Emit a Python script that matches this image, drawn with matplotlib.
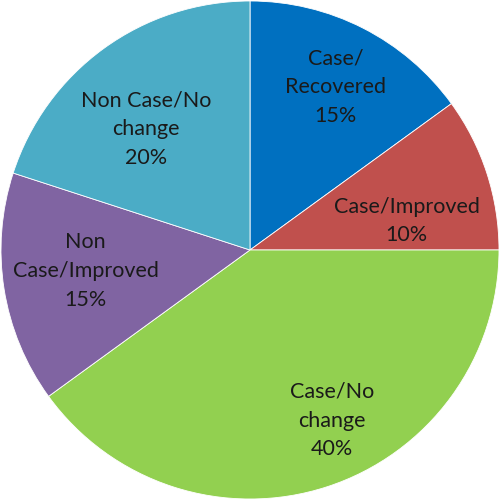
import numpy as np
import matplotlib
matplotlib.use("Agg")
import matplotlib.pyplot as plt

categories = ["Case/\nRecovered", "Case/Improved", "Case/No\nchange", "Non\nCase/Improved", "Non Case/No\nchange"]
values = [15, 10, 40, 15, 20]
colors = ["#0070C0", "#C0504D", "#92D050", "#8064A2", "#4BACC6"]

# label placement (fraction of radius, angular shift in degrees)
label_r = [0.74, 0.64, 0.76, 0.665, 0.64]
label_shift = [-0.7, -7.5, 7.6, -1.7, 4.7]

fig = plt.figure(figsize=(5.0, 4.99), dpi=100)
ax = fig.add_axes([0, 0, 1, 1])
wedges, _ = ax.pie(values, colors=colors, startangle=90, counterclock=False,
                   radius=1.0, wedgeprops=dict(linewidth=0.6, edgecolor="white"))
ax.set_xlim(-1.004, 1.004)
ax.set_ylim(-1.0, 1.004)
ax.set_aspect("equal")
ax.axis("off")

total = sum(values)
for w, cat, v, r, s in zip(wedges, categories, values, label_r, label_shift):
    ang = np.deg2rad((w.theta1 + w.theta2) / 2 + s)
    ax.text(r * np.cos(ang), r * np.sin(ang), f"{cat}\n{round(100 * v / total)}%",
            ha="center", va="center", fontsize=15.5, family="Lato",
            color="#1a1a1a", linespacing=1.55)

fig.savefig("out.png", dpi=100)
